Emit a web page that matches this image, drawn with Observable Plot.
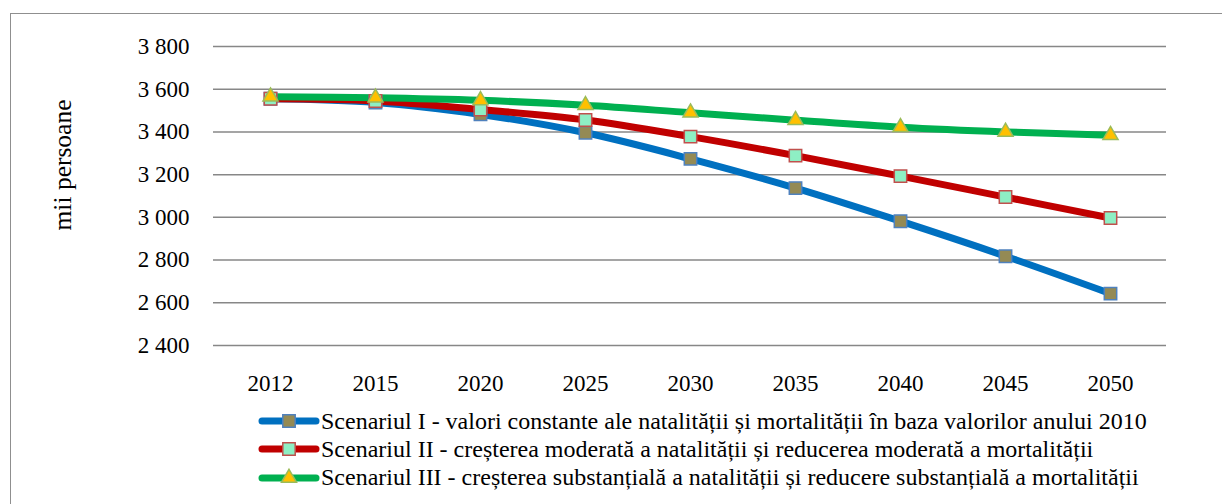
<!DOCTYPE html>
<html><head><meta charset="utf-8">
<script src="https://cdn.jsdelivr.net/npm/d3@7"></script>
<script src="https://cdn.jsdelivr.net/npm/@observablehq/plot@0.6"></script>
<style>
body{margin:0;background:#fff;font-family:"Liberation Serif","DejaVu Serif",serif;}
#wrap{position:relative;width:1222px;height:504px;overflow:hidden;background:#fff;}
#border{position:absolute;left:10px;top:13px;width:1240px;height:540px;border:1.5px solid #8f8f8f;box-sizing:border-box;}
#chart{position:absolute;left:0;top:0;}
#legend{position:absolute;left:258px;top:407px;font-size:24px;color:#000;font-family:"Liberation Serif","DejaVu Serif",serif;}
.row{display:flex;align-items:center;height:28.3px;white-space:nowrap;}
.row svg{flex:none;margin-right:1px;}
#chart svg text{font-family:"Liberation Serif","DejaVu Serif",serif;}
</style></head><body>
<div id="wrap"><div id="border"></div><div id="chart"></div><div id="legend"></div></div>
<script>
const years = ["2012","2015","2020","2025","2030","2035","2040","2045","2050"];
const scenariul1 = [3555,3538,3482,3396,3274,3137,2982,2818,2643];
const scenariul2 = [3555,3545,3505,3456,3378,3289,3193,3095,2997];
const scenariul3 = [3565,3560,3548,3525,3490,3455,3422,3400,3385];
const yTicks = [2400,2600,2800,3000,3200,3400,3600,3800];
const seriesNames = [
  "Scenariul I - valori constante ale natalității și mortalității în baza valorilor anului 2010",
  "Scenariul II - creșterea moderată a natalității și reducerea moderată a mortalității",
  "Scenariul III - creșterea substanțială a natalității și reducere substanțială a mortalității"
];
const lineColors = ["#0070C0","#C00000","#00B050"];
const markerFills = ["#948A54","#8EEFC4","#FFC000"];
const markerStrokes = ["#4F81BD","#C0504D","#9BBB59"];
const markerSymbols = ["square","square","triangle"];
const markerR = [7.0,7.0,5.6];

const allValues = [scenariul1, scenariul2, scenariul3];
const data = allValues.map((vals, s) => years.map((y, i) => ({year: y, v: vals[i], s})));
const fmt = d => d3.format(",")(d).replace(/,/g, " ");

const marks = [
  Plot.ruleY(yTicks, {stroke: "#878787", strokeWidth: 1.5}),
  Plot.axisY({ticks: yTicks, tickSize: 0, tickPadding: 24, tickFormat: fmt, label: null}),
  Plot.axisX({tickSize: 0, tickPadding: 29, label: null}),
  Plot.axisY({ticks: [], tickSize: 0, label: null, line: true, color: "#878787", strokeWidth: 1.5}),
  Plot.text(["mii persoane"], {frameAnchor: "left", dx: -151, dy: -31, rotate: -90, textAnchor: "middle", lineAnchor: "middle", fontSize: 25.5, fill: "#000"})
];
data.forEach((d, s) => marks.push(Plot.line(d, {x: "year", y: "v", stroke: lineColors[s], strokeWidth: 7, curve: "catmull-rom"})));
data.forEach((d, s) => marks.push(Plot.dot(d, {x: "year", y: "v", symbol: markerSymbols[s], r: markerR[s], fill: markerFills[s], stroke: markerStrokes[s], strokeWidth: 1.5})));

const chart = Plot.plot({
  width: 1222, height: 395,
  marginLeft: 213, marginRight: 56, marginTop: 46, marginBottom: 50,
  style: {fontFamily: "'Liberation Serif','DejaVu Serif',serif", fontSize: "23px", color: "#000", background: "transparent", overflow: "visible"},
  x: {type: "point", domain: years, padding: 0.5, label: null},
  y: {domain: [2400, 3800], label: null},
  marks
});
document.getElementById("chart").appendChild(chart);

const legend = document.getElementById("legend");
seriesNames.forEach((name, s) => {
  const row = document.createElement("div");
  row.className = "row";
  const svg = d3.create("svg").attr("width", 62).attr("height", 28);
  svg.append("line").attr("x1", 4).attr("x2", 58).attr("y1", 14).attr("y2", 14)
    .attr("stroke", lineColors[s]).attr("stroke-width", 7).attr("stroke-linecap", "round");
  const size = Math.PI * markerR[s] * markerR[s];
  svg.append("path").attr("transform", "translate(31,14)")
    .attr("d", d3.symbol(markerSymbols[s] === "square" ? d3.symbolSquare : d3.symbolTriangle, size)())
    .attr("fill", markerFills[s]).attr("stroke", markerStrokes[s]).attr("stroke-width", 1.5);
  row.appendChild(svg.node());
  const span = document.createElement("span");
  span.textContent = name;
  row.appendChild(span);
  legend.appendChild(row);
});
</script>
</body></html>
